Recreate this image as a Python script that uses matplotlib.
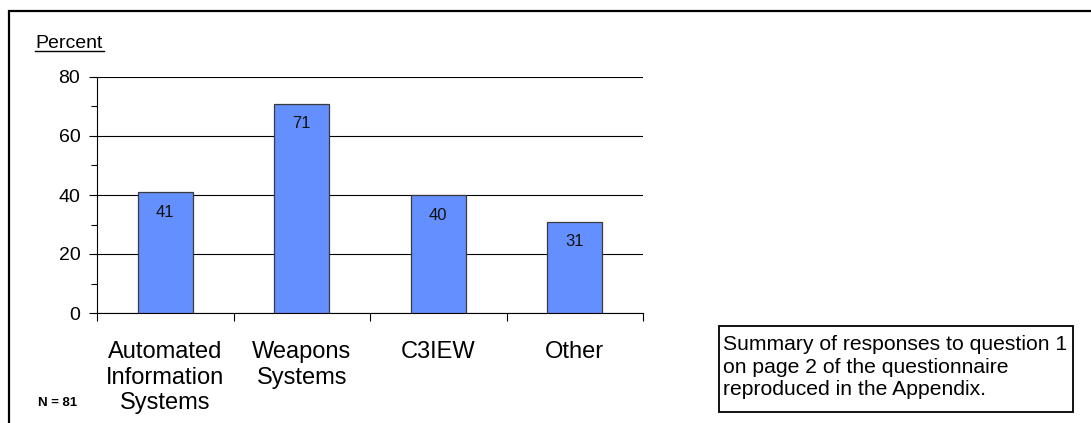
import matplotlib
matplotlib.use("Agg")
import matplotlib.pyplot as plt
from matplotlib.patches import Rectangle
from matplotlib.ticker import MultipleLocator

plt.rcParams["font.family"] = ["Liberation Sans", "DejaVu Sans"]

# Data
categories = ["Automated\nInformation\nSystems", "Weapons\nSystems", "C3IEW", "Other"]
percents = [41, 71, 40, 31]
y_ticks = [0, 20, 40, 60, 80]
note = "Summary of responses to question 1\non page 2 of the questionnaire\nreproduced in the Appendix."
n_label = "N = 81"

W, H = 1091, 423
fig = plt.figure(figsize=(W / 100, H / 100), dpi=100)

# outer frame (left and top only visible, runs off the right/bottom)
fig.patches.append(Rectangle((9 / W, -0.1), 1.2, 1 - 11 / H + 0.1,
                             transform=fig.transFigure, fill=False,
                             edgecolor="black", linewidth=1.6))

ax = fig.add_axes([97 / W, 1 - 313 / H, (643 - 97) / W, (313 - 77) / H])

x = list(range(len(categories)))
bars = ax.bar(x, percents, width=0.4, color="#6490FF", edgecolor="#3a3a3a",
              linewidth=0.9, zorder=3)

for xi, v in zip(x, percents):
    ax.annotate(str(v), (xi, v), xytext=(0, -9), textcoords="offset points",
                ha="center", va="top", fontsize=12, color="#111111", zorder=4)

ax.set_xlim(-0.5, len(categories) - 0.5)
ax.set_ylim(0, 80)
ax.set_yticks(y_ticks)
ax.yaxis.set_minor_locator(MultipleLocator(10))
ax.tick_params(axis="y", which="major", direction="out", length=6, width=0.8,
               labelsize=14, pad=6)
ax.tick_params(axis="y", which="minor", direction="out", length=4, width=0.8)

# category boundaries get the ticks, labels sit at the centres
ax.set_xticks([i - 0.5 for i in range(len(categories) + 1)])
ax.set_xticklabels([])
ax.set_xticks(x, minor=True)
ax.set_xticklabels(categories, minor=True, fontsize=17, linespacing=1.22)
ax.tick_params(axis="x", which="major", direction="out", length=6, width=0.8)
ax.tick_params(axis="x", which="minor", length=0, pad=20)

ax.grid(axis="y", which="major", color="black", linewidth=0.8, zorder=0)
for s in ["top", "right"]:
    ax.spines[s].set_visible(False)
ax.spines["left"].set_linewidth(0.8)
ax.spines["bottom"].set_linewidth(0.8)

fig.text(35 / W, 1 - 48 / H, "Percent", fontsize=14, ha="left", va="baseline")
fig.add_artist(plt.Line2D([35 / W, 104 / W], [1 - 51 / H, 1 - 51 / H],
                          color="black", linewidth=1))

fig.text(38 / W, 1 - 403 / H, n_label, fontsize=9.5, fontweight="bold",
         ha="left", va="center")

fig.patches.append(Rectangle((719 / W, 1 - 412 / H), (1073 - 719) / W,
                             (412 - 326) / H, transform=fig.transFigure,
                             fill=False, edgecolor="black", linewidth=1.3))
fig.text(723 / W, 1 - 367 / H, note, fontsize=15.2, ha="left", va="center",
         linespacing=1.25)

fig.savefig("out.png", dpi=100)
